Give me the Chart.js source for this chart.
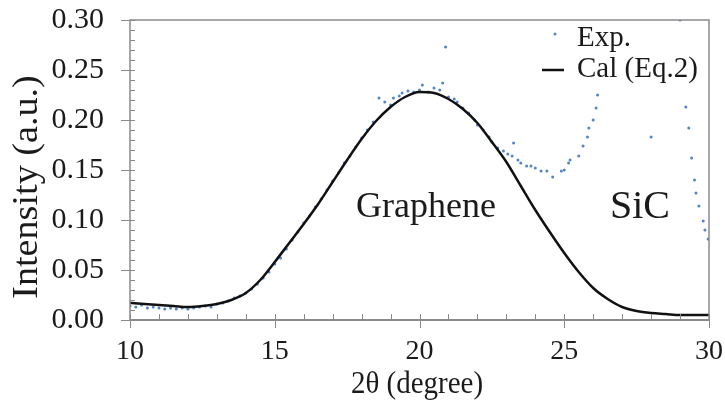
<!DOCTYPE html>
<html>
<head>
<meta charset="utf-8">
<script src="https://cdn.jsdelivr.net/npm/chart.js@4"></script>
<style>
  html, body { margin: 0; padding: 0; background: #fff; }
  #wrap { width: 725px; height: 412px; }
</style>
</head>
<body>
<div id="wrap"><canvas id="chart" width="725" height="412"></canvas></div>
<script>
// Exp. points (2θ, intensity)
const expX = [10.0, 10.2, 10.4, 10.6, 10.8, 11.0, 11.2, 11.4, 11.6, 11.8, 12.0, 12.2, 12.4, 12.6, 12.8,
  13.0, 13.2, 13.4, 13.6, 13.8, 14.0, 14.2, 14.4, 14.6, 14.8, 15.0, 15.2, 15.4, 15.6, 15.8,
  16.0, 16.2, 16.4, 16.6, 16.8, 17.0, 17.2, 17.4, 17.6, 17.8, 18.0, 18.2, 18.4, 18.6, 18.8,
  19.0, 19.1, 19.3, 19.4, 19.6, 19.8, 20.0, 20.1, 20.3, 20.5, 20.7, 20.8, 20.9, 21.0, 21.2,
  21.3, 21.5, 21.7, 21.9, 22.0, 22.2, 22.4, 22.5, 22.7, 22.9, 23.05, 23.2, 23.25, 23.4, 23.5,
  23.7, 23.85, 24.0, 24.2, 24.4, 24.6, 24.9, 25.0, 25.15, 25.2, 25.5, 25.65, 25.8, 25.85, 26.0,
  26.1, 26.15, 28.0, 29.0, 29.2, 29.3, 29.4, 29.5, 29.55, 29.65, 29.8, 29.86, 29.97];
const expY = [0.014, 0.013, 0.015, 0.012, 0.013, 0.012, 0.011, 0.012, 0.011, 0.012, 0.011, 0.012, 0.013, 0.014, 0.013,
  0.016, 0.017, 0.019, 0.022, 0.024, 0.027, 0.031, 0.036, 0.042, 0.048, 0.056, 0.062, 0.071, 0.080, 0.088,
  0.097, 0.104, 0.113, 0.121, 0.130, 0.139, 0.147, 0.157, 0.164, 0.173, 0.182, 0.190, 0.198, 0.222, 0.218,
  0.215, 0.222, 0.224, 0.227, 0.229, 0.228, 0.230, 0.235, 0.228, 0.232, 0.230, 0.237, 0.273, 0.223, 0.221,
  0.218, 0.212, 0.207, 0.200, 0.195, 0.190, 0.183, 0.178, 0.172, 0.169, 0.166, 0.164, 0.177, 0.160, 0.157,
  0.154, 0.154, 0.152, 0.149, 0.149, 0.143, 0.149, 0.150, 0.157, 0.160, 0.164, 0.174, 0.183, 0.192, 0.200,
  0.212, 0.225, 0.183, 0.300, 0.213, 0.192, 0.162, 0.140, 0.127, 0.114, 0.099, 0.090, 0.081];

// Cal (Eq.2) curve
const calX = [10, 10.5, 11, 11.5, 12, 12.5, 13, 13.5, 14, 14.5, 15, 15.5, 16, 16.5, 17, 17.5, 18, 18.5, 19, 19.5,
  20, 20.5, 21, 21.5, 22, 22.5, 23, 23.5, 24, 24.5, 25, 25.5, 26, 26.5, 27, 27.5, 28, 28.5, 29, 29.5, 30];
const calY = [0.017, 0.016, 0.015, 0.014, 0.013, 0.014, 0.016, 0.020, 0.027, 0.040, 0.058, 0.077, 0.096, 0.116, 0.138, 0.160, 0.181, 0.199, 0.213, 0.223,
  0.228, 0.227, 0.221, 0.211, 0.197, 0.178, 0.158, 0.134, 0.110, 0.088, 0.067, 0.048, 0.032, 0.021, 0.013, 0.009, 0.007, 0.006, 0.005, 0.005, 0.005];

const xTicks = [10, 15, 20, 25, 30];
const yTicks = [0, 0.05, 0.10, 0.15, 0.20, 0.25, 0.30];

const serif = "'Liberation Serif', 'Times New Roman', serif";
const ink = "#1a1a1a";
const dotColor = "#5383c8";

// rama, podziałki, legenda i podpisy
const decor = {
  id: "decor",
  afterDatasetsDraw(chart) {
    const { ctx, chartArea: a, scales: { x, y } } = chart;
    ctx.save();
    ctx.strokeStyle = "#8a8a8a";
    ctx.lineWidth = 1;
    // minor ticks inside
    for (let v = 11; v < 30; v++) {
      if (v % 5 === 0) continue;
      const px = Math.round(x.getPixelForValue(v)) + 0.5;
      ctx.beginPath(); ctx.moveTo(px, a.bottom); ctx.lineTo(px, a.bottom - 6); ctx.stroke();
    }
    for (let i = 1; i < 30; i++) {
      if (i % 5 === 0) continue;
      const py = Math.round(y.getPixelForValue(i / 100)) + 0.5;
      ctx.beginPath(); ctx.moveTo(a.left, py); ctx.lineTo(a.left + 5, py); ctx.stroke();
    }
    // major ticks
    xTicks.forEach(v => {
      const px = Math.round(x.getPixelForValue(v)) + 0.5;
      ctx.beginPath(); ctx.moveTo(px, a.bottom - 6); ctx.lineTo(px, a.bottom + 8); ctx.stroke();
    });
    yTicks.forEach(v => {
      const py = Math.round(y.getPixelForValue(v)) + 0.5;
      ctx.beginPath(); ctx.moveTo(a.left - 9, py); ctx.lineTo(a.left + 5, py); ctx.stroke();
    });
    // frame
    ctx.lineWidth = 1.5;
    ctx.strokeRect(a.left, a.top, a.right - a.left, a.bottom - a.top);
    ctx.lineWidth = 2;
    ctx.beginPath(); ctx.moveTo(a.left, a.bottom); ctx.lineTo(a.right, a.bottom); ctx.stroke();

    // legend
    ctx.fillStyle = ink;
    ctx.font = "29px " + serif;
    ctx.textBaseline = "middle";
    ctx.textAlign = "left";
    ctx.fillText("Exp.", 577, 38);
    ctx.fillText("Cal (Eq.2)", 577, 69);
    ctx.fillStyle = dotColor;
    ctx.beginPath(); ctx.arc(555, 34, 1.5, 0, Math.PI * 2); ctx.fill();
    ctx.strokeStyle = "#111";
    ctx.lineWidth = 2.5;
    ctx.beginPath(); ctx.moveTo(542, 70); ctx.lineTo(564, 70); ctx.stroke();

    // labels
    ctx.fillStyle = ink;
    ctx.font = "36px " + serif;
    ctx.textAlign = "center";
    ctx.fillText("Graphene", 426, 208);
    ctx.font = "40px " + serif;
    ctx.fillText("SiC", 640, 207);

    // y axis title, lekko rozciągnięty jak w oryginale
    ctx.save();
    ctx.translate(28, 187);
    ctx.rotate(-Math.PI / 2);
    ctx.scale(1.06, 1);
    ctx.font = "36px " + serif;
    ctx.fillText("Intensity (a.u.)", 0, 0);
    ctx.restore();

    // x axis title
    ctx.save();
    ctx.translate(417, 384);
    ctx.scale(1, 1.12);
    ctx.font = "29px " + serif;
    ctx.fillText("2θ (degree)", 0, 0);
    ctx.restore();
    ctx.restore();
  }
};

new Chart(document.getElementById("chart"), {
  type: "scatter",
  data: {
    datasets: [
      {
        label: "Exp.",
        data: expX.map((v, i) => ({ x: v, y: expY[i] })),
        pointRadius: 1.5,
        pointBackgroundColor: dotColor,
        pointBorderWidth: 0,
        showLine: false,
        order: 2
      },
      {
        label: "Cal (Eq.2)",
        data: calX.map((v, i) => ({ x: v, y: calY[i] })),
        showLine: true,
        borderColor: "#111",
        borderWidth: 2.5,
        pointRadius: 0,
        cubicInterpolationMode: "monotone",
        order: 1
      }
    ]
  },
  options: {
    responsive: false,
    animation: false,
    layout: { padding: { top: 20, right: 16, left: 0, bottom: 0 } },
    plugins: { legend: { display: false }, tooltip: { enabled: false } },
    scales: {
      x: {
        type: "linear", min: 10, max: 30,
        grid: { display: false, drawTicks: false },
        border: { display: false },
        afterBuildTicks: s => { s.ticks = xTicks.map(v => ({ value: v })); },
        ticks: { color: ink, font: { family: serif, size: 28 }, padding: 15, maxRotation: 0 },
        title: { display: false },
        afterFit: s => { s.height = 92; s.paddingLeft = 0; s.paddingRight = 0; }
      },
      y: {
        type: "linear", min: 0, max: 0.3,
        grid: { display: false, drawTicks: false },
        border: { display: false },
        afterBuildTicks: s => { s.ticks = yTicks.map(v => ({ value: v })); },
        ticks: { color: ink, font: { family: serif, size: 30 }, padding: 26, callback: v => v.toFixed(2) },
        title: { display: false },
        afterFit: s => { s.width = 130; s.paddingTop = 0; s.paddingBottom = 0; }
      }
    }
  },
  plugins: [decor]
});
</script>
</body>
</html>
